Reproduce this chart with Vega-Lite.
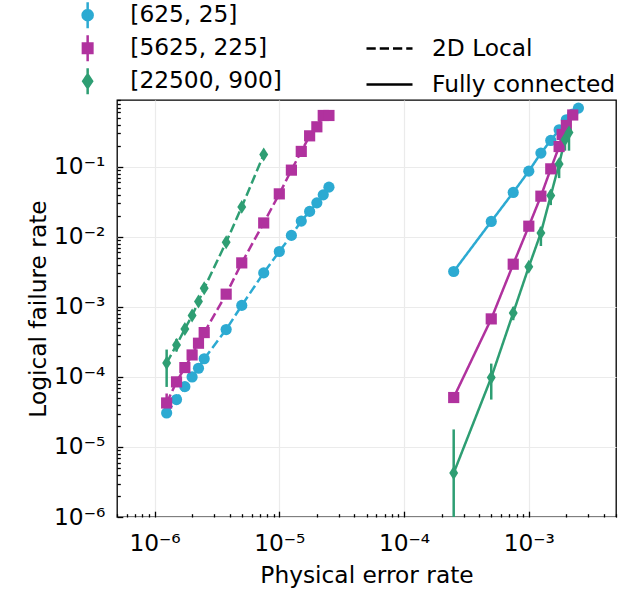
{
  "$schema": "https://vega.github.io/schema/vega-lite/v6.json",
  "width": 499,
  "height": 417,
  "autosize": {"type": "none"},
  "padding": {"left": 117, "top": 100, "right": 25, "bottom": 73},
  "config": {
    "font": "DejaVu Sans",
    "view": {"stroke": "black", "strokeWidth": 1.3},
    "axis": {"labelFont": "DejaVu Sans", "titleFont": "DejaVu Sans", "labelColor": "black", "titleColor": "black", "titleFontWeight": "normal", "labelFontSize": 23.3, "titleFontSize": 23.3, "domain": false, "tickColor": "black", "tickWidth": 1.3, "gridColor": "#ebebeb", "gridWidth": 1.2, "labelFlush": false, "labelOverlap": false, "labelBound": false},
    "legend": {"labelFont": "DejaVu Sans", "labelColor": "black", "labelLimit": 0}
  },
  "data": {"values": [
    {"conn": "2D Local", "code": "[625, 25]", "p": 1.25e-6, "f": 3.06e-5, "lo": 2.6e-5, "hi": 3.5e-5},
    {"conn": "2D Local", "code": "[625, 25]", "p": 1.5e-6, "f": 4.75e-5},
    {"conn": "2D Local", "code": "[625, 25]", "p": 1.75e-6, "f": 7.26e-5},
    {"conn": "2D Local", "code": "[625, 25]", "p": 2e-6, "f": 1.0e-4},
    {"conn": "2D Local", "code": "[625, 25]", "p": 2.25e-6, "f": 1.33e-4},
    {"conn": "2D Local", "code": "[625, 25]", "p": 2.5e-6, "f": 1.82e-4},
    {"conn": "2D Local", "code": "[625, 25]", "p": 3.75e-6, "f": 4.75e-4},
    {"conn": "2D Local", "code": "[625, 25]", "p": 5e-6, "f": 1.05e-3},
    {"conn": "2D Local", "code": "[625, 25]", "p": 7.5e-6, "f": 3.06e-3},
    {"conn": "2D Local", "code": "[625, 25]", "p": 1e-5, "f": 6.18e-3},
    {"conn": "2D Local", "code": "[625, 25]", "p": 1.25e-5, "f": 1.05e-2},
    {"conn": "2D Local", "code": "[625, 25]", "p": 1.5e-5, "f": 1.68e-2},
    {"conn": "2D Local", "code": "[625, 25]", "p": 1.75e-5, "f": 2.31e-2},
    {"conn": "2D Local", "code": "[625, 25]", "p": 2e-5, "f": 3.06e-2},
    {"conn": "2D Local", "code": "[625, 25]", "p": 2.25e-5, "f": 3.98e-2},
    {"conn": "2D Local", "code": "[625, 25]", "p": 2.5e-5, "f": 5.13e-2},
    {"conn": "Fully connected", "code": "[625, 25]", "p": 2.5e-4, "f": 3.2e-3},
    {"conn": "Fully connected", "code": "[625, 25]", "p": 5e-4, "f": 1.66e-2},
    {"conn": "Fully connected", "code": "[625, 25]", "p": 7.5e-4, "f": 4.31e-2},
    {"conn": "Fully connected", "code": "[625, 25]", "p": 1e-3, "f": 8.68e-2},
    {"conn": "Fully connected", "code": "[625, 25]", "p": 1.25e-3, "f": 0.157},
    {"conn": "Fully connected", "code": "[625, 25]", "p": 1.5e-3, "f": 0.238},
    {"conn": "Fully connected", "code": "[625, 25]", "p": 1.75e-3, "f": 0.338},
    {"conn": "Fully connected", "code": "[625, 25]", "p": 2e-3, "f": 0.469},
    {"conn": "Fully connected", "code": "[625, 25]", "p": 2.25e-3, "f": 0.566},
    {"conn": "Fully connected", "code": "[625, 25]", "p": 2.5e-3, "f": 0.69},
    {"conn": "2D Local", "code": "[5625, 225]", "p": 1.25e-6, "f": 4.25e-5, "lo": 3.7e-5, "hi": 5.8e-5},
    {"conn": "2D Local", "code": "[5625, 225]", "p": 1.5e-6, "f": 8.5e-5, "lo": 7.2e-5, "hi": 1.0e-4},
    {"conn": "2D Local", "code": "[5625, 225]", "p": 1.75e-6, "f": 1.36e-4},
    {"conn": "2D Local", "code": "[5625, 225]", "p": 2e-6, "f": 2.06e-4},
    {"conn": "2D Local", "code": "[5625, 225]", "p": 2.25e-6, "f": 3.03e-4},
    {"conn": "2D Local", "code": "[5625, 225]", "p": 2.5e-6, "f": 4.3e-4},
    {"conn": "2D Local", "code": "[5625, 225]", "p": 3.75e-6, "f": 1.52e-3},
    {"conn": "2D Local", "code": "[5625, 225]", "p": 5e-6, "f": 4.25e-3},
    {"conn": "2D Local", "code": "[5625, 225]", "p": 7.5e-6, "f": 1.58e-2},
    {"conn": "2D Local", "code": "[5625, 225]", "p": 1e-5, "f": 4.11e-2},
    {"conn": "2D Local", "code": "[5625, 225]", "p": 1.25e-5, "f": 8.97e-2},
    {"conn": "2D Local", "code": "[5625, 225]", "p": 1.5e-5, "f": 0.166},
    {"conn": "2D Local", "code": "[5625, 225]", "p": 1.75e-5, "f": 0.277},
    {"conn": "2D Local", "code": "[5625, 225]", "p": 2e-5, "f": 0.373},
    {"conn": "2D Local", "code": "[5625, 225]", "p": 2.25e-5, "f": 0.541},
    {"conn": "2D Local", "code": "[5625, 225]", "p": 2.5e-5, "f": 0.541},
    {"conn": "Fully connected", "code": "[5625, 225]", "p": 2.5e-4, "f": 5.08e-5},
    {"conn": "Fully connected", "code": "[5625, 225]", "p": 5e-4, "f": 6.74e-4},
    {"conn": "Fully connected", "code": "[5625, 225]", "p": 7.5e-4, "f": 4.07e-3},
    {"conn": "Fully connected", "code": "[5625, 225]", "p": 1e-3, "f": 1.42e-2},
    {"conn": "Fully connected", "code": "[5625, 225]", "p": 1.25e-3, "f": 3.81e-2},
    {"conn": "Fully connected", "code": "[5625, 225]", "p": 1.5e-3, "f": 9.36e-2},
    {"conn": "Fully connected", "code": "[5625, 225]", "p": 1.75e-3, "f": 0.195},
    {"conn": "Fully connected", "code": "[5625, 225]", "p": 1.85e-3, "f": 0.29},
    {"conn": "Fully connected", "code": "[5625, 225]", "p": 2e-3, "f": 0.39},
    {"conn": "Fully connected", "code": "[5625, 225]", "p": 2.25e-3, "f": 0.55},
    {"conn": "2D Local", "code": "[22500, 900]", "p": 1.25e-6, "f": 1.58e-4, "lo": 7.2e-5, "hi": 2.46e-4},
    {"conn": "2D Local", "code": "[22500, 900]", "p": 1.5e-6, "f": 2.86e-4, "lo": 2.3e-4, "hi": 3.5e-4},
    {"conn": "2D Local", "code": "[22500, 900]", "p": 1.75e-6, "f": 4.85e-4, "lo": 4.2e-4, "hi": 5.6e-4},
    {"conn": "2D Local", "code": "[22500, 900]", "p": 2e-6, "f": 7.53e-4},
    {"conn": "2D Local", "code": "[22500, 900]", "p": 2.25e-6, "f": 1.19e-3},
    {"conn": "2D Local", "code": "[22500, 900]", "p": 2.5e-6, "f": 1.85e-3},
    {"conn": "2D Local", "code": "[22500, 900]", "p": 3.75e-6, "f": 8.4e-3},
    {"conn": "2D Local", "code": "[22500, 900]", "p": 5e-6, "f": 2.68e-2},
    {"conn": "2D Local", "code": "[22500, 900]", "p": 7.5e-6, "f": 0.15},
    {"conn": "Fully connected", "code": "[22500, 900]", "p": 2.5e-4, "f": 4.25e-6, "lo": 1e-8, "hi": 1.78e-5},
    {"conn": "Fully connected", "code": "[22500, 900]", "p": 5e-4, "f": 9.8e-5, "lo": 4.75e-5, "hi": 1.55e-4},
    {"conn": "Fully connected", "code": "[22500, 900]", "p": 7.5e-4, "f": 8.2e-4, "lo": 6.45e-4, "hi": 1.0e-3},
    {"conn": "Fully connected", "code": "[22500, 900]", "p": 1e-3, "f": 3.73e-3, "lo": 3.3e-3, "hi": 4.2e-3},
    {"conn": "Fully connected", "code": "[22500, 900]", "p": 1.25e-3, "f": 1.14e-2, "lo": 7.4e-3, "hi": 1.39e-2},
    {"conn": "Fully connected", "code": "[22500, 900]", "p": 1.5e-3, "f": 3.9e-2, "lo": 2.84e-2, "hi": 4.6e-2},
    {"conn": "Fully connected", "code": "[22500, 900]", "p": 1.75e-3, "f": 0.11, "lo": 6.9e-2, "hi": 0.125},
    {"conn": "Fully connected", "code": "[22500, 900]", "p": 1.95e-3, "f": 0.245, "lo": 0.17, "hi": 0.3},
    {"conn": "Fully connected", "code": "[22500, 900]", "p": 2.1e-3, "f": 0.31, "lo": 0.17, "hi": 0.36}
  ]},
  "encoding": {
    "x": {"field": "p", "type": "quantitative", "scale": {"type": "log", "domain": [5e-7, 5e-3], "nice": false},
      "axis": {"title": "Physical error rate", "titlePadding": 7,
        "values": [5e-7, 6e-7, 7e-7, 8e-7, 9e-7, 1e-6, 2e-6, 3e-6, 4e-6, 5e-6, 6e-6, 7e-6, 8e-6, 9e-6, 1e-5, 2e-5, 3e-5, 4e-5, 5e-5, 6e-5, 7e-5, 8e-5, 9e-5, 1e-4, 2e-4, 3e-4, 4e-4, 5e-4, 6e-4, 7e-4, 8e-4, 9e-4, 1e-3, 2e-3, 3e-3, 4e-3, 5e-3],
        "labelExpr": "abs(log(datum.value)/LN10 - round(log(datum.value)/LN10)) < 0.001 ? '10' + replace(replace(replace(replace(replace(replace(replace('' + round(log(datum.value)/LN10), '-', '⁻'), '1', '¹'), '2', '²'), '3', '³'), '4', '⁴'), '5', '⁵'), '6', '⁶') : ''",
        "tickSize": {"condition": {"test": "abs(log(datum.value)/LN10 - round(log(datum.value)/LN10)) < 0.001", "value": -5.8}, "value": -3.3},
        "gridOpacity": {"condition": {"test": "abs(log(datum.value)/LN10 - round(log(datum.value)/LN10)) < 0.001", "value": 1}, "value": 0},
        "labelPadding": 21}},
    "y": {"field": "f", "type": "quantitative", "scale": {"type": "log", "domain": [1e-6, 0.9], "nice": false},
      "axis": {"title": "Logical failure rate", "titlePadding": 3,
        "values": [1e-6, 2e-6, 3e-6, 4e-6, 5e-6, 6e-6, 7e-6, 8e-6, 9e-6, 1e-5, 2e-5, 3e-5, 4e-5, 5e-5, 6e-5, 7e-5, 8e-5, 9e-5, 1e-4, 2e-4, 3e-4, 4e-4, 5e-4, 6e-4, 7e-4, 8e-4, 9e-4, 1e-3, 2e-3, 3e-3, 4e-3, 5e-3, 6e-3, 7e-3, 8e-3, 9e-3, 1e-2, 2e-2, 3e-2, 4e-2, 5e-2, 6e-2, 7e-2, 8e-2, 9e-2, 0.1, 0.2, 0.3, 0.4, 0.5, 0.6, 0.7, 0.8, 0.9],
        "labelExpr": "abs(log(datum.value)/LN10 - round(log(datum.value)/LN10)) < 0.001 ? '10' + replace(replace(replace(replace(replace(replace(replace('' + round(log(datum.value)/LN10), '-', '⁻'), '1', '¹'), '2', '²'), '3', '³'), '4', '⁴'), '5', '⁵'), '6', '⁶') : ''",
        "tickSize": {"condition": {"test": "abs(log(datum.value)/LN10 - round(log(datum.value)/LN10)) < 0.001", "value": -5.8}, "value": -3.3},
        "gridOpacity": {"condition": {"test": "abs(log(datum.value)/LN10 - round(log(datum.value)/LN10)) < 0.001", "value": 1}, "value": 0},
        "labelPadding": 18}},
    "color": {"field": "code", "type": "nominal",
      "scale": {"domain": ["[625, 25]", "[5625, 225]", "[22500, 900]"], "range": ["#2caad2", "#b0329e", "#2e9e73"]},
      "legend": {"orient": "none", "legendX": -41, "legendY": -96.5, "title": null, "labelFontSize": 23.3, "symbolSize": 125, "symbolStrokeWidth": 2.5, "symbolOpacity": 1, "labelOffset": 31, "rowPadding": -4, "padding": 0,
        "encode": {"symbols": {"update": {
          "shape": {"signal": "datum.value === '[625, 25]' ? 'M-0.9,0A0.9,0.9,0,1,0,0.9,0A0.9,0.9,0,1,0,-0.9,0ZM0,-2.33L0,2.33' : datum.value === '[5625, 225]' ? 'M-0.85,-0.85L0.85,-0.85L0.85,0.85L-0.85,0.85ZM0,-2.33L0,2.33' : 'M0,-1.2L0.8,0L0,1.2L-0.8,0ZM0,-2.33L0,2.33'"},
          "fill": {"scale": "color", "field": "value"},
          "stroke": {"scale": "color", "field": "value"},
          "opacity": {"value": 1}}}}}}
  },
  "layer": [
    {
      "transform": [{"filter": "isValid(datum.lo)"}],
      "mark": {"type": "rule", "strokeWidth": 2.5, "clip": true},
      "encoding": {
        "y": {"field": "lo", "type": "quantitative"},
        "y2": {"field": "hi"}
      }
    },
    {
      "mark": {"type": "line", "strokeWidth": 2.5, "clip": true},
      "encoding": {
        "strokeDash": {"field": "conn", "type": "nominal",
          "scale": {"domain": ["2D Local", "Fully connected"], "range": [[9.25, 4], [1, 0]]},
          "legend": {"orient": "none", "legendX": 248, "legendY": -76, "title": null, "labelFontSize": 23.3, "symbolType": "stroke", "symbolSize": 2116, "symbolStrokeWidth": 2.5, "symbolStrokeColor": "black", "labelOffset": 18, "rowPadding": -17.5, "padding": 0}}
      }
    },
    {
      "transform": [{"filter": "datum.code === '[625, 25]'"}],
      "mark": {"type": "point", "filled": true, "opacity": 1, "size": 125, "shape": "circle", "clip": true}
    },
    {
      "transform": [{"filter": "datum.code === '[5625, 225]'"}],
      "mark": {"type": "point", "filled": true, "opacity": 1, "size": 125, "shape": "square", "clip": true}
    },
    {
      "transform": [{"filter": "datum.code === '[22500, 900]'"}],
      "mark": {"type": "point", "filled": true, "opacity": 1, "size": 125, "shape": "M0,-1.25L0.8,0L0,1.25L-0.8,0Z", "clip": true}
    }
  ]
}
